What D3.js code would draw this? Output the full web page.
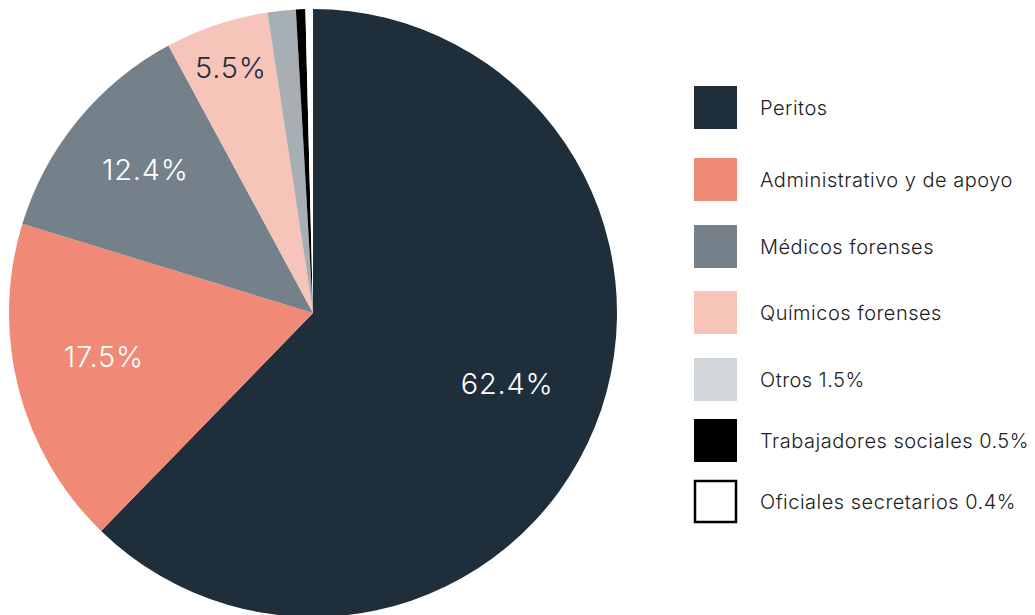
<!DOCTYPE html>
<html>
<head>
<meta charset="utf-8">
<script src="https://cdn.jsdelivr.net/npm/d3@7"></script>
<style>
  body { margin: 0; background: #fff; }
  svg { display: block; font-family: Inter, "Noto Sans", sans-serif; }
</style>
</head>
<body>
<svg class="chart"></svg>
<script>
// data
var categories = ["Peritos", "Administrativo y de apoyo", "Médicos forenses", "Químicos forenses",
  "Otros", "Trabajadores sociales", "Oficiales secretarios"];
var values = [62.4, 17.5, 12.4, 5.5, 1.5, 0.5, 0.4];
var sliceLabels = ["62.4%", "17.5%", "12.4%", "5.5%", "", "", ""];
var legendLabels = ["Peritos", "Administrativo y de apoyo", "Médicos forenses", "Químicos forenses",
  "Otros 1.5%", "Trabajadores sociales 0.5%", "Oficiales secretarios 0.4%"];

var sliceColors = ["#1e2f3b", "#f08a76", "#75818a", "#f6c4b9", "#a8afb4", "#000000", "#ffffff"];
var keyColors = ["#1e2f3b", "#f08a76", "#75818a", "#f6c4b9", "#d1d6d8", "#000000", "#ffffff"];
var labelColors = ["#ffffff", "#ffffff", "#ffffff", "#1e2f3b"];

var W = 1035, H = 615;
var cx = 313, cy = 313, R = 304;

var svg = d3.select(".chart")
  .attr("width", W)
  .attr("height", H);

var rows = categories.map(function(c, i) { return {name: c, value: values[i], i: i}; });

var pie = d3.pie()
  .value(function(d) { return d.value; })
  .sort(null);

var arc = d3.arc().innerRadius(0).outerRadius(R);

var g = svg.append("g")
  .attr("transform", "translate(" + cx + "," + cy + ")");

var arcs = pie(rows);

g.selectAll("path")
  .data(arcs)
  .enter().append("path")
  .attr("d", arc)
  .attr("fill", function(d) { return sliceColors[d.data.i]; });

// labels: small slices sit further out
g.selectAll("text.lbl")
  .data(arcs.filter(function(d) { return sliceLabels[d.data.i] != ""; }))
  .enter().append("text")
  .attr("class", "lbl")
  .attr("transform", function(d) {
    var r = d.data.value < 10 ? R * 0.82 : R * 0.70;
    var a = (d.startAngle + d.endAngle) / 2;
    return "translate(" + (Math.sin(a) * r - 3) + "," + (-Math.cos(a) * r) + ")";
  })
  .attr("text-anchor", "middle")
  .attr("dy", "0.05em")
  .attr("font-size", 29)
  .attr("font-weight", 300)
  .attr("letter-spacing", 0.8)
  .attr("fill", function(d) { return labelColors[d.data.i]; })
  .text(function(d) { return sliceLabels[d.data.i]; });

// legend
var keyY = d3.scaleOrdinal()
  .domain(categories)
  .range([86, 158, 225, 291, 358, 419, 480]);

var key = svg.append("g")
  .selectAll("g")
  .data(rows)
  .enter().append("g")
  .attr("transform", function(d) { return "translate(694," + keyY(d.name) + ")"; });

key.append("rect")
  .attr("x", function(d) { return d.i == 6 ? 1 : 0; })
  .attr("y", function(d) { return d.i == 6 ? 1 : 0; })
  .attr("width", function(d) { return d.i == 6 ? 41 : 43; })
  .attr("height", function(d) { return d.i == 6 ? 41 : 43; })
  .attr("fill", function(d) { return keyColors[d.i]; })
  .attr("stroke", function(d) { return d.i == 6 ? "#000" : "none"; })
  .attr("stroke-width", 2.5);

key.append("text")
  .attr("x", 66)
  .attr("y", 22)
  .attr("dy", "0.36em")
  .attr("font-size", 20)
  .attr("font-weight", 300)
  .attr("letter-spacing", 0.5)
  .attr("fill", "#222")
  .text(function(d) { return legendLabels[d.i]; });
</script>
</body>
</html>
